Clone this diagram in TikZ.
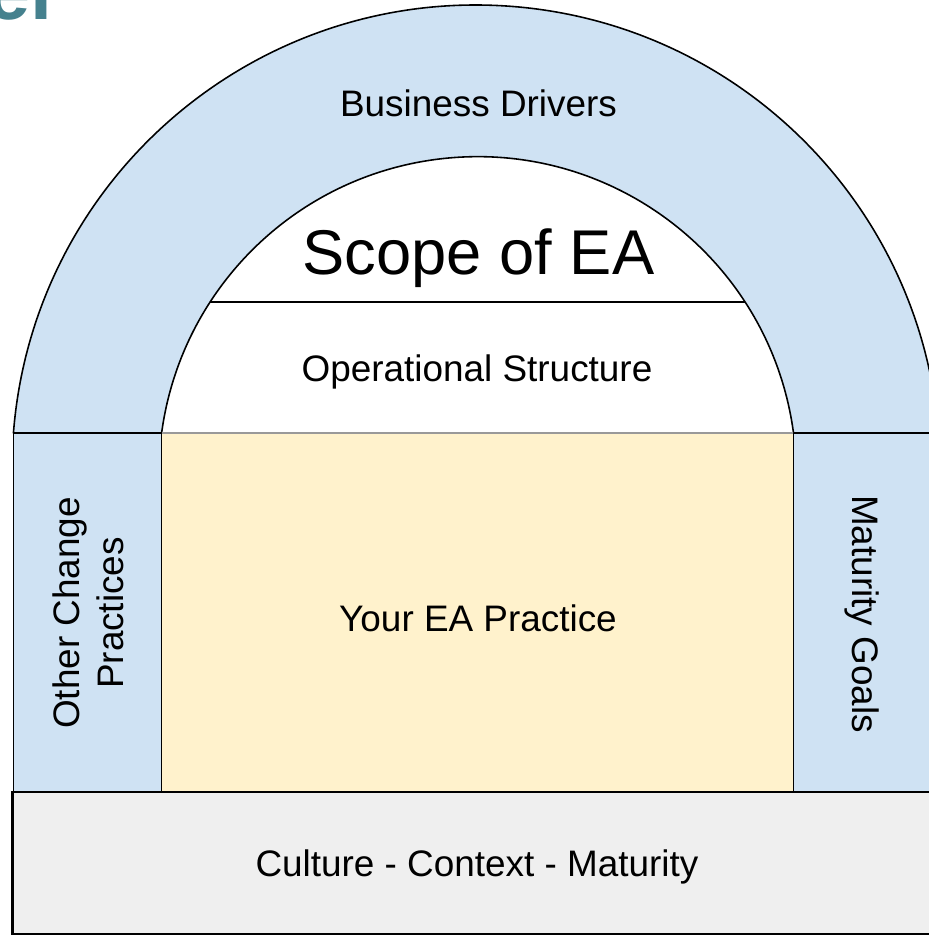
\documentclass[tikz,border=0pt]{standalone}
\usepackage{fontspec}
\setmainfont{Liberation Sans}
\definecolor{archblue}{HTML}{CFE2F3}
\definecolor{practice}{HTML}{FFF2CC}
\definecolor{basegray}{HTML}{EFEFEF}
\definecolor{titleteal}{HTML}{45818E}
\definecolor{softline}{HTML}{999999}
\tikzset{
  band/.style={fill=archblue, draw=black, line width=0.9pt, line join=round},
  lbl/.style={inner sep=0pt, font=\fontsize{21}{25}\selectfont},
  biglbl/.style={inner sep=0pt, font=\fontsize{36}{42}\selectfont},
}
\begin{document}
\begin{tikzpicture}[x=0.02cm, y=0.02cm]
\useasboundingbox (0,0) rectangle (929,936);
\clip (0,0) rectangle (929,936);
\fill[white] (0,0) rectangle (929,936);

% centres of the two arcs
\coordinate (oc) at (476,467);
\coordinate (ic) at (477.5,460.5);

% arch band (Business Drivers)
\draw[band] (oc) ++(175.55:464) coordinate (outerL)
  arc[start angle=175.55, end angle=4.45, radius=464] coordinate (outerR)
  -- (793.5,503) coordinate (innerR)
  arc[start angle=7.66, end angle=172.34, radius=318.8] coordinate (innerL)
  -- cycle;

% divider between Scope of EA and Operational Structure
\path (ic) ++(147.03:318.8) coordinate (sepL);
\path (ic) ++(32.97:318.8) coordinate (sepR);
\draw[line width=0.9pt] (sepL) -- (sepR);

% practice block
\fill[practice] (161.5,144) rectangle (793.5,503);
\draw[softline, line width=0.6pt] (innerL) -- (innerR);

% side pillars
\draw[band] (13.4,144) rectangle (161.5,503);
\draw[band] (793.5,144) rectangle (960,503);

% base block
\draw[fill=basegray, draw=black, line width=1.4pt] (12.5,2) rectangle (960,144);

% partial title fragment
\node[anchor=base east, inner sep=0pt, text=titleteal,
      font=\fontsize{45}{50}\selectfont\bfseries] (title) at (53,916) {el};

% labels
\node[lbl, anchor=base] (drivers) at (478.5,819) {Business Drivers};
\node[biglbl, anchor=base] (scope) at (478.5,661) {Scope of EA};
\node[lbl, anchor=base] (ops) at (477,554) {Operational Structure};
\node[lbl, anchor=base] (yours) at (478,304) {Your EA Practice};
\node[lbl, anchor=base] (culture) at (477,59) {Culture - Context - Maturity};
\node[lbl, align=center, rotate=90, font=\fontsize{21}{25}\selectfont]
  (other) at (88.5,323) {Other Change\\Practices};
\node[lbl, anchor=base, rotate=-90] (maturity) at (852,322) {Maturity Goals};
\end{tikzpicture}
\end{document}
